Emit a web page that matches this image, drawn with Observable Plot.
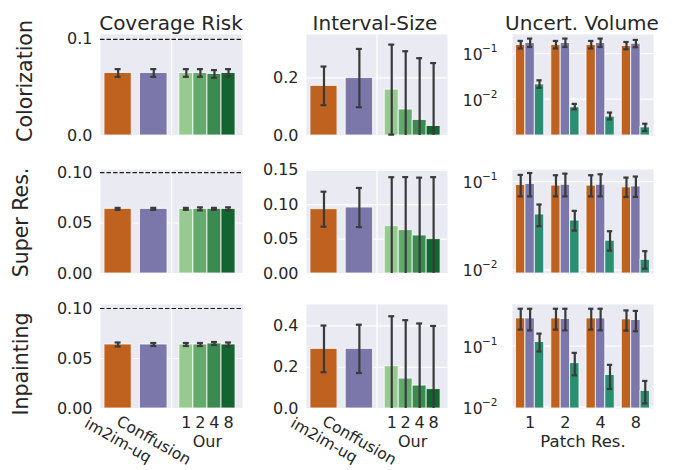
<!DOCTYPE html>
<html>
<head>
<meta charset="utf-8">
<script src="https://cdn.jsdelivr.net/npm/d3@7"></script>
<script src="https://cdn.jsdelivr.net/npm/@observablehq/plot@0.6"></script>
<style>
  body { margin: 0; background: #ffffff; font-family: "DejaVu Sans", sans-serif; }
  #chart { position: relative; width: 673px; height: 470px; overflow: hidden; background: #ffffff; }
</style>
</head>
<body>
<div id="chart"></div>
<script>
// ---------------- data ----------------
const tasks = ["Colorization", "Super Res.", "Inpainting"];
const metrics = ["Coverage Risk", "Interval-Size", "Uncert. Volume"];
const methods = ["im2im-uq", "Conffusion", "1", "2", "4", "8"];
const baselineNames = ["im2im-uq", "Conffusion"];
const patchRes = ["1", "2", "4", "8"];
const volMethods = ["im2im-uq", "Conffusion", "Our"];
const ourLabel = "Our";
const patchLabel = "Patch Res.";
const targetRisk = 0.1;

// Coverage risk (mean, half error) per task: im2im-uq, Conffusion, Our 1,2,4,8
const riskMean = [
  [0.065, 0.065, 0.065, 0.065, 0.064, 0.065],
  [0.064, 0.064, 0.064, 0.064, 0.064, 0.064],
  [0.064, 0.064, 0.064, 0.064, 0.065, 0.064]
];
const riskErr = [
  [0.004, 0.004, 0.004, 0.004, 0.004, 0.004],
  [0.001, 0.001, 0.001, 0.0015, 0.001, 0.0015],
  [0.002, 0.0015, 0.0015, 0.0015, 0.0015, 0.002]
];
// Interval size (mean, half error)
const sizeMean = [
  [0.172, 0.199, 0.159, 0.090, 0.054, 0.033],
  [0.0934, 0.0958, 0.0688, 0.063, 0.0552, 0.0499],
  [0.289, 0.289, 0.205, 0.145, 0.111, 0.094]
];
const sizeErr = [
  [0.067, 0.101, 0.156, 0.202, 0.214, 0.218],
  [0.0254, 0.0284, 0.071, 0.077, 0.084, 0.090],
  [0.113, 0.117, 0.242, 0.283, 0.301, 0.306]
];
// Uncertainty volume [task][method][patch]
const volMean = [
  [[0.155, 0.155, 0.155, 0.147], [0.171, 0.171, 0.171, 0.165], [0.0211, 0.00666, 0.00415, 0.00241]],
  [[0.0915, 0.090, 0.090, 0.086], [0.094, 0.092, 0.092, 0.088], [0.0424, 0.0362, 0.0214, 0.013]],
  [[0.286, 0.286, 0.286, 0.276], [0.286, 0.280, 0.286, 0.270], [0.1175, 0.0528, 0.0337, 0.0185]]
];
const volLo = [
  [[0.13, 0.13, 0.13, 0.125], [0.14, 0.14, 0.14, 0.138], [0.0178, 0.0060, 0.0036, 0.0020]],
  [[0.068, 0.068, 0.068, 0.067], [0.068, 0.068, 0.068, 0.067], [0.0313, 0.0278, 0.0165, 0.0103]],
  [[0.187, 0.187, 0.187, 0.180], [0.182, 0.182, 0.182, 0.176], [0.082, 0.0333, 0.0199, 0.0115]]
];
const volHi = [
  [[0.19, 0.19, 0.19, 0.18], [0.214, 0.214, 0.214, 0.20], [0.026, 0.0079, 0.0051, 0.0029]],
  [[0.119, 0.118, 0.118, 0.111], [0.125, 0.123, 0.121, 0.114], [0.055, 0.0466, 0.0274, 0.0163]],
  [[0.412, 0.412, 0.412, 0.387], [0.412, 0.412, 0.412, 0.380], [0.161, 0.0778, 0.0495, 0.0269]]
];

// ---------------- styles / layout ----------------
const methodColors = ["#c0621f", "#7b77aa", "#97ca91", "#62ab6c", "#3a8a52", "#12652f"];
const volColors = ["#c0621f", "#7b77aa", "#2b8e70"];
const bg = "#eaeaf2";
const ink = "#262626";
const errInk = "#3a3a3a";
const font = "DejaVu Sans";
const fs = 16;

const colFrames = [{x: 100, w: 142}, {x: 306, w: 141}, {x: 512, w: 141}];
const rowFrames = [{y: 34, h: 101}, {y: 169, h: 104}, {y: 304, h: 104}];
const yDomains = [
  [[0, 0.105], [0, 0.35], [0.0016, 0.263]],
  [[0, 0.103], [0, 0.151], [0.0091, 0.137]],
  [[0, 0.104], [0, 0.504], [0.0095, 0.484]]
];
const yTicks = [
  [[0, 0.1], [0, 0.2], [0.01, 0.1]],
  [[0, 0.05, 0.1], [0, 0.05, 0.1, 0.15], [0.01, 0.1]],
  [[0, 0.05, 0.1], [0, 0.2, 0.4], [0.01, 0.1]]
];
const yFormats = [
  [".1f", ".1f", null],
  [".2f", ".2f", null],
  [".2f", ".1f", null]
];

function slot(i) {
  if (i === 0) return [0.28, 2.2];
  if (i === 1) return [2.78, 4.72];
  const j = i - 2;
  return [5.55 + j * 0.99, 5.55 + (j + 1) * 0.99];
}
const supMap = {"-": "\u2212", "0": "0", "1": "1", "2": "2", "3": "3"};

const chart = document.getElementById("chart");

// titles and row labels
const ov = d3.select(chart).append("svg")
  .attr("width", 673).attr("height", 470)
  .style("position", "absolute").style("left", "0px").style("top", "0px")
  .style("font-family", font);
const titleX = [171, 375, 582];
metrics.forEach((m, c) => ov.append("text")
  .attr("x", titleX[c]).attr("y", 29.5).attr("text-anchor", "middle")
  .attr("font-size", 20).attr("fill", ink).text(m));
const rowLabelX = [31.5, 28.3, 28.3];
const rowLabelY = [81, 222.5, 364];
tasks.forEach((t, r) => ov.append("text")
  .attr("transform", `translate(${rowLabelX[r]},${rowLabelY[r]}) rotate(-90)`)
  .attr("text-anchor", "middle").attr("font-size", 20.5).attr("fill", ink).text(t));

function panel(r, c) {
  const cf = colFrames[c], rf = rowFrames[r];
  const ml = 75, mr = 6, mt = 6, mb = r === 2 ? 60 : 6;
  const dom = yDomains[r][c];
  const ticks = yTicks[r][c];
  const marks = [Plot.frame({fill: bg, stroke: "none"})];
  marks.push(Plot.ruleY(ticks, {y: d => d, stroke: "white", strokeWidth: 1.2}));
  let bars, capW;
  if (c < 2) {
    const means = c === 0 ? riskMean[r] : sizeMean[r];
    const errs = c === 0 ? riskErr[r] : sizeErr[r];
    bars = methods.map((m, i) => {
      const [x1, x2] = slot(i);
      return {m, x1, x2, xc: (x1 + x2) / 2, base: dom[0], v: means[i],
              lo: means[i] - errs[i], hi: means[i] + errs[i], color: methodColors[i]};
    });
    capW = 0.21;
    marks.push(Plot.ruleX([5], {x: d => d, stroke: "white", strokeWidth: 1.2}));
  } else {
    bars = [];
    patchRes.forEach((p, g) => volMethods.forEach((m, k) => {
      const x1 = g + 0.1 + k * 0.8 / 3;
      bars.push({m, x1, x2: x1 + 0.8 / 3, xc: x1 + 0.4 / 3, base: dom[0],
                 v: volMean[r][k][g], lo: volLo[r][k][g], hi: volHi[r][k][g], color: volColors[k]});
    }));
    capW = 0.075;
  }
  marks.push(Plot.rect(bars, {x1: "x1", x2: "x2", y1: "base", y2: "v", fill: "color",
    stroke: "white", strokeWidth: 1, strokeOpacity: 0.8}));
  marks.push(Plot.ruleX(bars, {x: "xc", y1: d => Math.max(d.lo, dom[0]), y2: d => Math.min(d.hi, dom[1]),
    stroke: errInk, strokeWidth: 2.2}));
  const caps = bars.flatMap(d => [d.lo, d.hi].filter(v => v >= dom[0] && v <= dom[1])
    .map(v => ({y: v, x1: d.xc - capW, x2: d.xc + capW})));
  marks.push(Plot.ruleY(caps, {y: "y", x1: "x1", x2: "x2", stroke: errInk, strokeWidth: 2.2}));
  if (c === 0) {
    marks.push(Plot.ruleY([targetRisk], {y: d => d, stroke: "#1a1a1a", strokeWidth: 1.2, strokeDasharray: "4.5,2"}));
  }
  // y tick labels
  if (c < 2) {
    const f = d3.format(yFormats[r][c]);
    marks.push(Plot.text(ticks, {y: d => d, text: d => f(d), frameAnchor: "left", textAnchor: "end",
      lineAnchor: "middle", dx: -8, fontSize: fs, fill: ink, fontFamily: font}));
  } else {
    marks.push(Plot.text(ticks, {y: d => d, text: d => "10", frameAnchor: "left", textAnchor: "end",
      lineAnchor: "middle", dx: -30, dy: 1.5, fontSize: 15.5, fill: ink, fontFamily: font}));
    marks.push(Plot.text(ticks, {y: d => d,
      text: d => String(Math.round(Math.log10(d))).split("").map(ch => supMap[ch]).join(""),
      frameAnchor: "left", textAnchor: "end", lineAnchor: "middle", dx: -15, dy: -5,
      fontSize: 10.5, fill: ink, fontFamily: font}));
  }
  // bottom labels
  if (r === 2) {
    if (c < 2) {
      const base = baselineNames.map((b, i) => { const [x1, x2] = slot(i); return {b, xc: (x1 + x2) / 2}; });
      marks.push(Plot.text(base, {x: "xc", text: "b", frameAnchor: "bottom", dy: 32, rotate: 30,
        textAnchor: "middle", lineAnchor: "middle", fontSize: 15.5, fill: ink, fontFamily: font}));
      const ours = patchRes.map((p, j) => { const [x1, x2] = slot(j + 2); return {p, xc: (x1 + x2) / 2}; });
      marks.push(Plot.text(ours, {x: "xc", text: "p", frameAnchor: "bottom", dy: 14.5,
        textAnchor: "middle", lineAnchor: "middle", fontSize: fs, fill: ink, fontFamily: font}));
      const oc = (slot(2)[0] + slot(5)[1]) / 2;
      marks.push(Plot.text([ourLabel], {x: () => oc, text: d => d, frameAnchor: "bottom", dy: 33.5,
        textAnchor: "middle", lineAnchor: "middle", fontSize: fs, fill: ink, fontFamily: font}));
    } else {
      marks.push(Plot.text(patchRes, {x: (d, g) => g + 0.5, text: d => d, frameAnchor: "bottom", dy: 14.5,
        textAnchor: "middle", lineAnchor: "middle", fontSize: fs, fill: ink, fontFamily: font}));
      marks.push(Plot.text([patchLabel], {x: () => 2, text: d => d, frameAnchor: "bottom", dy: 33,
        textAnchor: "middle", lineAnchor: "middle", fontSize: 16.5, fill: ink, fontFamily: font}));
    }
  }
  const svg = Plot.plot({
    width: ml + cf.w + mr,
    height: mt + rf.h + mb,
    marginLeft: ml, marginRight: mr, marginTop: mt, marginBottom: mb,
    x: {domain: c < 2 ? [0, 10] : [0, 4], axis: null},
    y: {type: c === 2 ? "log" : "linear", domain: dom, axis: null},
    color: {type: "identity"},
    style: {background: "transparent", overflow: "visible", fontFamily: font, maxWidth: "none"},
    marks
  });
  svg.style.position = "absolute";
  svg.style.left = (cf.x - ml) + "px";
  svg.style.top = (rf.y - mt) + "px";
  return svg;
}

for (let r = 0; r < 3; r++) {
  for (let c = 0; c < 3; c++) {
    chart.appendChild(panel(r, c));
  }
}
</script>
</body>
</html>
